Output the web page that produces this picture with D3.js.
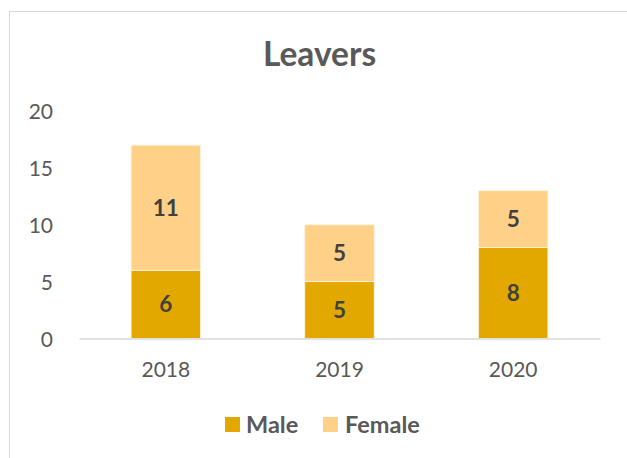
<!DOCTYPE html>
<html><head><meta charset="utf-8">
<script src="https://cdn.jsdelivr.net/npm/d3@7"></script>
<style>
html,body{margin:0;padding:0;background:#fff;}
svg{display:block;font-family:Lato, "Open Sans", sans-serif;}
</style></head>
<body><svg id="c" width="627" height="458"></svg>
<script>
const categories = ["2018", "2019", "2020"];
const maleValues = [6, 5, 8];
const femaleValues = [11, 5, 5];
const seriesNames = ["Male", "Female"];
const yTicks = [0, 5, 10, 15, 20];
const title = "Leavers";

const colors = {Male: "#E2A800", Female: "#FFD088"};
const svg = d3.select("#c");

// chart border
svg.append("rect").attr("x", 9.5).attr("y", 11.5).attr("width", 640).attr("height", 470)
  .attr("fill", "#fff").attr("stroke", "#D9D9D9").attr("stroke-width", 1);

const x = d3.scaleBand().domain(categories).range([79, 600]).paddingInner(0.6).paddingOuter(0.3);
const y = d3.scaleLinear().domain([0, 20]).range([338.5, 111]);

const data = categories.map((c, i) => ({cat: c, Male: maleValues[i], Female: femaleValues[i]}));
const stacked = d3.stack().keys(seriesNames)(data);

// title
svg.append("text").attr("x", 319.5).attr("y", 66).attr("text-anchor", "middle")
  .attr("font-size", 33.5).attr("font-weight", "bold").attr("fill", "#595959").text(title);

// y axis labels
const yAxis = d3.axisLeft(y).tickValues(yTicks).tickSize(0).tickPadding(0);
const yg = svg.append("g").attr("transform", "translate(53,0)").call(yAxis);
yg.select(".domain").remove();
yg.selectAll("text").attr("font-size", 21).attr("fill", "#595959").attr("font-family", "Lato, sans-serif").attr("dy", "0.36em");

// bars
svg.append("g").selectAll("g").data(stacked).join("g")
  .attr("fill", d => colors[d.key])
  .selectAll("rect").data(d => d).join("rect")
  .attr("x", d => x(d.data.cat))
  .attr("y", d => y(d[1]))
  .attr("width", x.bandwidth())
  .attr("height", d => y(d[0]) - y(d[1]))
  .attr("stroke", "#FFF5E0").attr("stroke-width", 0.8);

// x axis
const xAxis = d3.axisBottom(x).tickSize(0).tickPadding(0);
const xg = svg.append("g").attr("transform", "translate(0,338.5)").call(xAxis);
xg.select(".domain").attr("stroke", "#D9D9D9").attr("stroke-width", 1.5);
xg.selectAll("text").attr("font-size", 21).attr("fill", "#595959").attr("font-family", "Lato, sans-serif")
  .attr("dy", 0).attr("y", 38);

// data labels
stacked.forEach(s => {
  svg.append("g").selectAll("text").data(s).join("text")
    .attr("x", d => x(d.data.cat) + x.bandwidth() / 2)
    .attr("y", d => (y(d[0]) + y(d[1])) / 2)
    .attr("dy", "0.36em")
    .attr("text-anchor", "middle")
    .attr("font-size", 22.5).attr("font-weight", "bold").attr("fill", "#404040")
    .text(d => d[1] - d[0]);
});

// legend
const legendItems = [{name: "Male", sx: 225, tx: 246}, {name: "Female", sx: 323, tx: 345}];
const lg = svg.append("g");
legendItems.forEach(it => {
  lg.append("rect").attr("x", it.sx).attr("y", 417).attr("width", 15).attr("height", 15).attr("fill", colors[it.name]);
  lg.append("text").attr("x", it.tx).attr("y", 432.5).attr("font-size", 23.5).attr("font-weight", "bold")
    .attr("fill", "#595959").text(it.name);
});
</script></body></html>
